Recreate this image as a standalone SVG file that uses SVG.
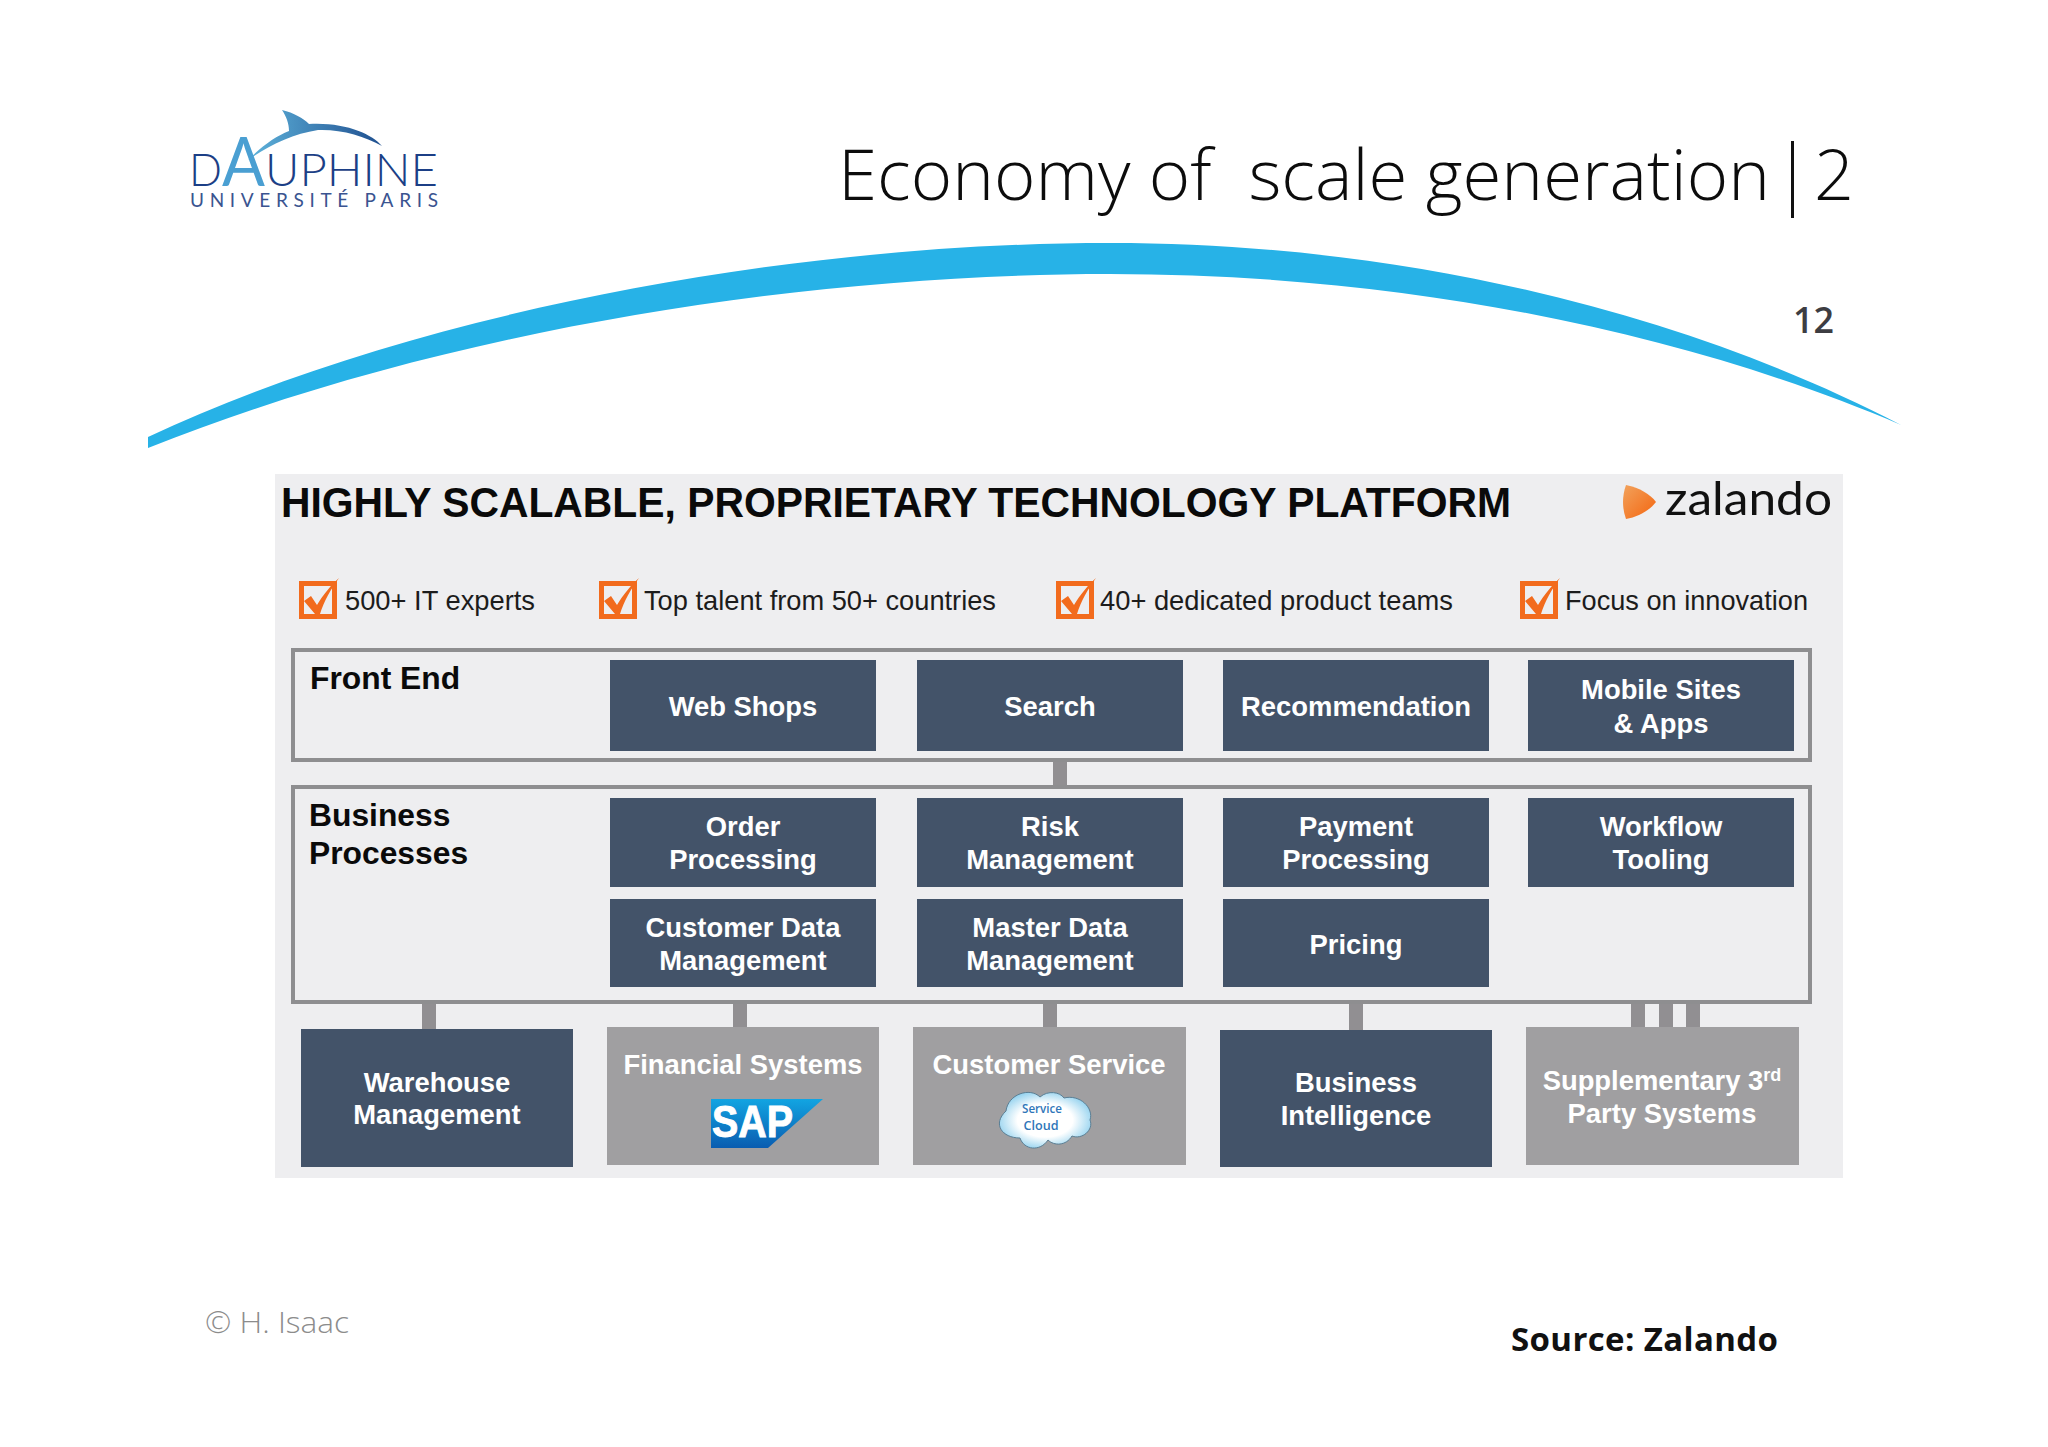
<svg xmlns="http://www.w3.org/2000/svg" width="2048" height="1447" viewBox="0 0 2048 1447">
<defs>
<style>
text{font-family:"Liberation Sans",Arial,sans-serif}
.dark{fill:#435369}
.grey{fill:#a09fa1}
.frame{fill:none;stroke:#8e8e90;stroke-width:4}
.conn{fill:#918f92}
.lbl{fill:#fff;font-size:27.4px;font-weight:700;text-anchor:middle}
.cat{fill:#0a0a0a;font-size:31.8px;font-weight:700}
.chk{fill:none;stroke:#f26b1d;stroke-width:5}
.tick{fill:#f26b1d}
.bul{fill:#1c1c1c;font-size:28px}
</style>
<linearGradient id="fin" x1="0" y1="0" x2="1" y2="0"><stop offset="0" stop-color="#5fb4dc"/><stop offset="1" stop-color="#1f4f8f"/></linearGradient>
<linearGradient id="sap" x1="0" y1="0" x2="0" y2="1"><stop offset="0" stop-color="#12a5e2"/><stop offset="1" stop-color="#0a5cb0"/></linearGradient>
<radialGradient id="cloud" cx=".5" cy=".5" r=".55"><stop offset=".55" stop-color="#fff"/><stop offset="1" stop-color="#8fd0ee"/></radialGradient>
<linearGradient id="zal" x1="0" y1="0" x2="1" y2="1"><stop offset="0" stop-color="#f2a25c"/><stop offset="1" stop-color="#f4650f"/></linearGradient>
<g id="tickmark"><rect class="chk" x="2.500" y="4.500" width="33" height="33"/><path class="tick" d="M5 22 L12 17 L18 26 C24 16 32 6 40 -1 C32 10 25 22 21 35 L16 35 Z"/></g>
</defs>
<rect width="2048" height="1447" fill="#fff"/>

<g id="logo">
<path d="M282 110 C294 113 303 118 309 124 C345 122 372 134 382 146 C365 136 340 129 318 130 C292 134 268 146 248 160 C262 146 276 136 289 131 C289 123 286 116 282 110 Z" fill="url(#fin)"/>
<text x="189" y="186" font-size="46" fill="#1c3f86" style="font-family:Lato,sans-serif;font-weight:300" textLength="33" lengthAdjust="spacingAndGlyphs">D</text>
<text x="222" y="186" font-size="68" fill="#4a9fd2" style="font-family:Lato,sans-serif;font-weight:400" textLength="43" lengthAdjust="spacingAndGlyphs">A</text>
<text x="265" y="186" font-size="46" fill="#1c3f86" style="font-family:Lato,sans-serif;font-weight:300" textLength="173" lengthAdjust="spacingAndGlyphs">UPHINE</text>
<text x="190" y="207" font-size="19" fill="#3a5490" style="font-family:Lato,sans-serif" textLength="248" lengthAdjust="spacing">UNIVERSITÉ PARIS</text>
</g>

<g id="header">
<text x="838" y="200" font-size="70" fill="#0c0c0c" style="font-family:'Open Sans',sans-serif;font-weight:300" textLength="932" lengthAdjust="spacingAndGlyphs" xml:space="preserve">Economy of  scale generation</text>
<rect x="1791" y="141" width="3" height="77" fill="#111"/>
<text x="1814" y="200" font-size="70" fill="#0c0c0c" style="font-family:'Open Sans',sans-serif;font-weight:300" textLength="40" lengthAdjust="spacingAndGlyphs">2</text>
<text x="1793" y="333" font-size="36" fill="#3d3d42" font-weight="600" style="font-family:'Open Sans',sans-serif" textLength="41" lengthAdjust="spacingAndGlyphs">12</text>
</g>

<path id="arc" fill="#27b2e7" d="M148 437 C395 320 770 243 1110 243 C1420 243 1700 320 1901 425 C1708 342 1430 274 1110 274 C790 274 430 335 148 448 Z"/>

<rect id="panel" x="275" y="474" width="1568" height="704" fill="#eeeef0"/>

<g id="panel-header">
<text x="281" y="517" font-size="42" font-weight="700" fill="#0a0a0a" textLength="1230" lengthAdjust="spacingAndGlyphs">HIGHLY SCALABLE, PROPRIETARY TECHNOLOGY PLATFORM</text>
<path d="M1626 485 C1640 488 1650 494 1656 502 C1650 510 1638 517 1626 519 C1622 508 1622 496 1626 485 Z" fill="url(#zal)"/>
<text x="1665" y="515" font-size="47" fill="#111" style="font-family:Lato,sans-serif;font-weight:400" textLength="167" lengthAdjust="spacingAndGlyphs">zalando</text>
</g>

<g id="bullets">
<use href="#tickmark" x="299" y="579"/>
<text class="bul" x="345" y="610" textLength="190" lengthAdjust="spacingAndGlyphs">500+ IT experts</text>
<use href="#tickmark" x="599" y="579"/>
<text class="bul" x="644" y="610" textLength="352" lengthAdjust="spacingAndGlyphs">Top talent from 50+ countries</text>
<use href="#tickmark" x="1056" y="579"/>
<text class="bul" x="1100" y="610" textLength="353" lengthAdjust="spacingAndGlyphs">40+ dedicated product teams</text>
<use href="#tickmark" x="1520" y="579"/>
<text class="bul" x="1565" y="610" textLength="243" lengthAdjust="spacingAndGlyphs">Focus on innovation</text>
</g>

<g id="connectors">
<rect class="conn" x="1053" y="761" width="14" height="26"/>
<rect class="conn" x="422" y="1003" width="14" height="26"/>
<rect class="conn" x="733" y="1003" width="14" height="24"/>
<rect class="conn" x="1043" y="1003" width="14" height="24"/>
<rect class="conn" x="1349" y="1003" width="14" height="27"/>
<rect class="conn" x="1631" y="1003" width="14" height="24"/>
<rect class="conn" x="1659" y="1003" width="14" height="24"/>
<rect class="conn" x="1686" y="1003" width="14" height="24"/>
</g>

<g id="front-end">
<rect class="frame" x="293" y="650" width="1517" height="110"/>
<text class="cat" x="310" y="689">Front End</text>
</g>
<g id="web-shops"><rect class="dark" x="610" y="660" width="266" height="91"/><text class="lbl" x="743" y="716">Web Shops</text></g>
<g id="search"><rect class="dark" x="917" y="660" width="266" height="91"/><text class="lbl" x="1050" y="716">Search</text></g>
<g id="recommendation"><rect class="dark" x="1223" y="660" width="266" height="91"/><text class="lbl" x="1356" y="716">Recommendation</text></g>
<g id="mobile-sites"><rect class="dark" x="1528" y="660" width="266" height="91"/><text class="lbl" x="1661" y="699">Mobile Sites</text><text class="lbl" x="1661" y="733">&amp; Apps</text></g>

<g id="business-processes">
<rect class="frame" x="293" y="787" width="1517" height="215"/>
<text class="cat" x="309" y="826">Business</text>
<text class="cat" x="309" y="864">Processes</text>
</g>
<g id="order-processing"><rect class="dark" x="610" y="798" width="266" height="89"/><text class="lbl" x="743" y="836">Order</text><text class="lbl" x="743" y="869">Processing</text></g>
<g id="risk-management"><rect class="dark" x="917" y="798" width="266" height="89"/><text class="lbl" x="1050" y="836">Risk</text><text class="lbl" x="1050" y="869">Management</text></g>
<g id="payment-processing"><rect class="dark" x="1223" y="798" width="266" height="89"/><text class="lbl" x="1356" y="836">Payment</text><text class="lbl" x="1356" y="869">Processing</text></g>
<g id="workflow-tooling"><rect class="dark" x="1528" y="798" width="266" height="89"/><text class="lbl" x="1661" y="836">Workflow</text><text class="lbl" x="1661" y="869">Tooling</text></g>
<g id="customer-data"><rect class="dark" x="610" y="899" width="266" height="88"/><text class="lbl" x="743" y="937">Customer Data</text><text class="lbl" x="743" y="970">Management</text></g>
<g id="master-data"><rect class="dark" x="917" y="899" width="266" height="88"/><text class="lbl" x="1050" y="937">Master Data</text><text class="lbl" x="1050" y="970">Management</text></g>
<g id="pricing"><rect class="dark" x="1223" y="899" width="266" height="88"/><text class="lbl" x="1356" y="954">Pricing</text></g>

<g id="warehouse"><rect class="dark" x="301" y="1029" width="272" height="138"/><text class="lbl" x="437" y="1092">Warehouse</text><text class="lbl" x="437" y="1124">Management</text></g>
<g id="financial-systems"><rect class="grey" x="607" y="1027" width="272" height="138"/><text class="lbl" x="743" y="1074">Financial Systems</text>
<path d="M711 1099 H823 L768 1148 H711 Z" fill="url(#sap)"/>
<text x="712" y="1137" font-size="45" font-weight="700" fill="#fff" stroke="#fff" stroke-width="1" textLength="81" lengthAdjust="spacingAndGlyphs">SAP</text></g>
<g id="customer-service"><rect class="grey" x="913" y="1027" width="273" height="138"/><text class="lbl" x="1049" y="1074">Customer Service</text>
<path d="M1006 1111 C1008 1094 1030 1087 1040 1097 C1048 1090 1060 1092 1064 1098 C1080 1094 1094 1108 1090 1120 C1094 1130 1082 1140 1072 1136 C1066 1146 1054 1146 1048 1140 C1040 1152 1024 1150 1020 1138 C1002 1138 992 1124 1006 1111 Z" fill="url(#cloud)" stroke="#5a7f95" stroke-width="1"/>
<text x="1042" y="1113" font-size="12" fill="#2f76b9" text-anchor="middle" style="font-family:'Open Sans',sans-serif;font-weight:600" textLength="40" lengthAdjust="spacingAndGlyphs">Service</text>
<text x="1041" y="1130" font-size="12" fill="#2f76b9" text-anchor="middle" style="font-family:'Open Sans',sans-serif;font-weight:600" textLength="35" lengthAdjust="spacingAndGlyphs">Cloud</text></g>
<g id="business-intelligence"><rect class="dark" x="1220" y="1030" width="272" height="137"/><text class="lbl" x="1356" y="1092">Business</text><text class="lbl" x="1356" y="1125">Intelligence</text></g>
<g id="supplementary"><rect class="grey" x="1526" y="1027" width="273" height="138"/><text class="lbl" x="1662" y="1090">Supplementary 3<tspan font-size="18" dy="-9">rd</tspan></text><text class="lbl" x="1662" y="1123">Party Systems</text></g>

<g id="footer">
<text x="205" y="1333" font-size="29" fill="#8c8c8c" style="font-family:'Open Sans',sans-serif;font-weight:300" textLength="144" lengthAdjust="spacingAndGlyphs">© H. Isaac</text>
<text x="1511" y="1351" font-size="33" font-weight="700" fill="#111" style="font-family:'Open Sans',sans-serif" textLength="267" lengthAdjust="spacing">Source: Zalando</text>
</g>
</svg>
